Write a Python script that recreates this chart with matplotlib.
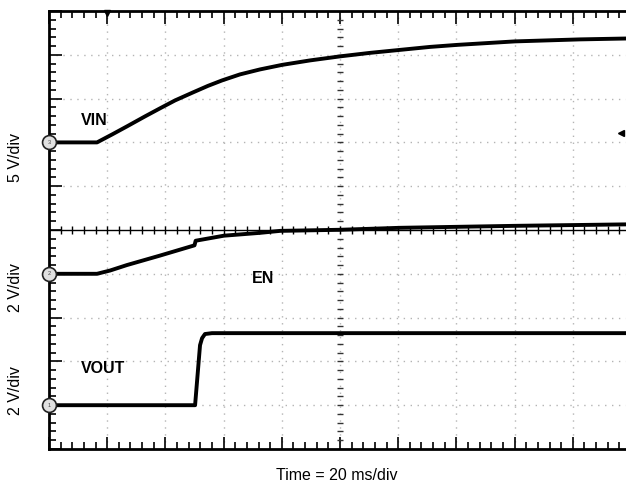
import matplotlib
matplotlib.use("Agg")
import matplotlib.pyplot as plt
import numpy as np

plt.rcParams['font.family'] = ['Liberation Sans', 'DejaVu Sans']

# ---- data (time in ms, voltages in V) ----
vin_t = [0, 16.5, 21.7, 26.8, 33.0, 38.1, 43.3, 49.5, 54.6, 59.5, 65.6, 72.5, 80.1,
         89.7, 100, 110.3, 120.6, 130.9, 140.2, 160.1, 182.5, 200]
vin_v = [0, 0, 0.91, 1.83, 2.97, 3.88, 4.79, 5.71, 6.45, 7.08, 7.76, 8.33, 8.85,
         9.36, 9.82, 10.22, 10.56, 10.90, 11.13, 11.53, 11.76, 11.87]

en_t = [0, 16.5, 21.0, 26.8, 38.1, 49.5, 50.0, 50.4, 60.1, 72.5, 79.4, 100, 120.6, 160, 200]
en_v = [0, 0, 0.15, 0.40, 0.83, 1.28, 1.30, 1.51, 1.74, 1.87, 1.96, 2.01, 2.10, 2.19, 2.26]

vout_t = [0, 50.2, 51.9, 52.6, 53.6, 56, 200]
vout_v = [0, 0, 2.74, 3.06, 3.25, 3.29, 3.29]

# channel scaling (V/div) and ground reference (div from centre)
channels = ['VIN', 'EN', 'VOUT']
vdiv = [5, 2, 2]
ground = [2, -1, -4]
chan_num = ['3', '2', '1']

time_per_div = 20
n_xdiv = 10
n_ydiv = 10

W, H = 626, 487
fig = plt.figure(figsize=(W / 100, H / 100), dpi=100)
left_px, right_px, top_px, bot_px = 49, 631, 11, 449
ax = fig.add_axes([left_px / W, 1 - bot_px / H, (right_px - left_px) / W, (bot_px - top_px) / H])

xmax = time_per_div * n_xdiv
ax.set_xlim(0, xmax)
ax.set_ylim(-n_ydiv / 2, n_ydiv / 2)

# grid
for i in range(1, n_xdiv):
    x = i * time_per_div
    ax.axvline(x, color='#b4b4b4', lw=1.0, ls=(0, (1, 4)), zorder=1)
for j in range(1, n_ydiv):
    y = -n_ydiv / 2 + j
    if y != 0:
        ax.axhline(y, color='#b4b4b4', lw=1.0, ls=(0, (1, 4)), zorder=1)

# centre axes
ax.axhline(0, color='black', lw=1.0, zorder=2)
minor_x = np.arange(0, xmax + 0.01, time_per_div / 5)
ax.plot(minor_x, np.zeros_like(minor_x), ls='none', marker='|', ms=6, mew=1.0, color='black', zorder=2)
minor_y = np.arange(-n_ydiv / 2, n_ydiv / 2 + 0.01, 0.2)
ax.plot(np.full_like(minor_y, xmax / 2), minor_y, ls='none', marker='_', ms=5, mew=1.0, color='#333333', zorder=2)

# border ticks
ax.set_xticks(np.arange(0, xmax + 0.01, time_per_div))
ax.set_xticks(minor_x, minor=True)
ax.set_yticks(np.arange(-n_ydiv / 2, n_ydiv / 2 + 0.01, 1))
ax.set_yticks(minor_y, minor=True)
ax.tick_params(which='both', direction='in', top=True, bottom=True, left=True, right=False,
               labelbottom=False, labelleft=False, width=1.2)
ax.tick_params(which='major', length=9)
ax.tick_params(which='minor', length=5)
for s in ['left', 'top', 'bottom']:
    ax.spines[s].set_linewidth(2.0)
ax.spines['right'].set_visible(False)

# traces
traces = [(vin_t, vin_v), (en_t, en_v), (vout_t, vout_v)]
for (t, v), vd, g in zip(traces, vdiv, ground):
    y = g + np.asarray(v) / vd
    ax.plot(t, y, color='black', lw=2.8, solid_joinstyle='round', zorder=4)

# ground markers
for g, n in zip(ground, chan_num):
    ax.plot([0], [g], marker='o', ms=10, mfc='#e0e0e0', mec='#222222', mew=1.2,
            clip_on=False, zorder=6)
    ax.text(0, g, n, fontsize=4, ha='center', va='center', color='#444444', zorder=7, clip_on=False)

# trigger markers
ax.plot([196.6], [2.21], marker='<', ms=5, color='black', ls='none', zorder=5)
ax.plot([time_per_div], [n_ydiv / 2 - 0.05], marker='v', ms=4, color='black', ls='none',
        zorder=5, clip_on=False)

# trace labels
lab_kw = dict(fontsize=11.5, fontweight='bold', ha='center', va='center', zorder=8)
ax.text(15.5, 2.5, 'VIN', **lab_kw)
ax.text(73.5, -1.1, 'EN', **lab_kw)
ax.text(18.5, -3.17, 'VOUT', **lab_kw)

# axis labels (figure coords)
fig.text(15 / W, 1 - 157 / H, '5 V/div', rotation=90, fontsize=11.5, ha='center', va='center')
fig.text(15 / W, 1 - 288 / H, '2 V/div', rotation=90, fontsize=11.5, ha='center', va='center')
fig.text(15 / W, 1 - 391 / H, '2 V/div', rotation=90, fontsize=11.5, ha='center', va='center')
fig.text(337 / W, 1 - 476 / H, 'Time = 20 ms/div', fontsize=11.5, ha='center', va='center')

fig.savefig('out.png', dpi=100)
